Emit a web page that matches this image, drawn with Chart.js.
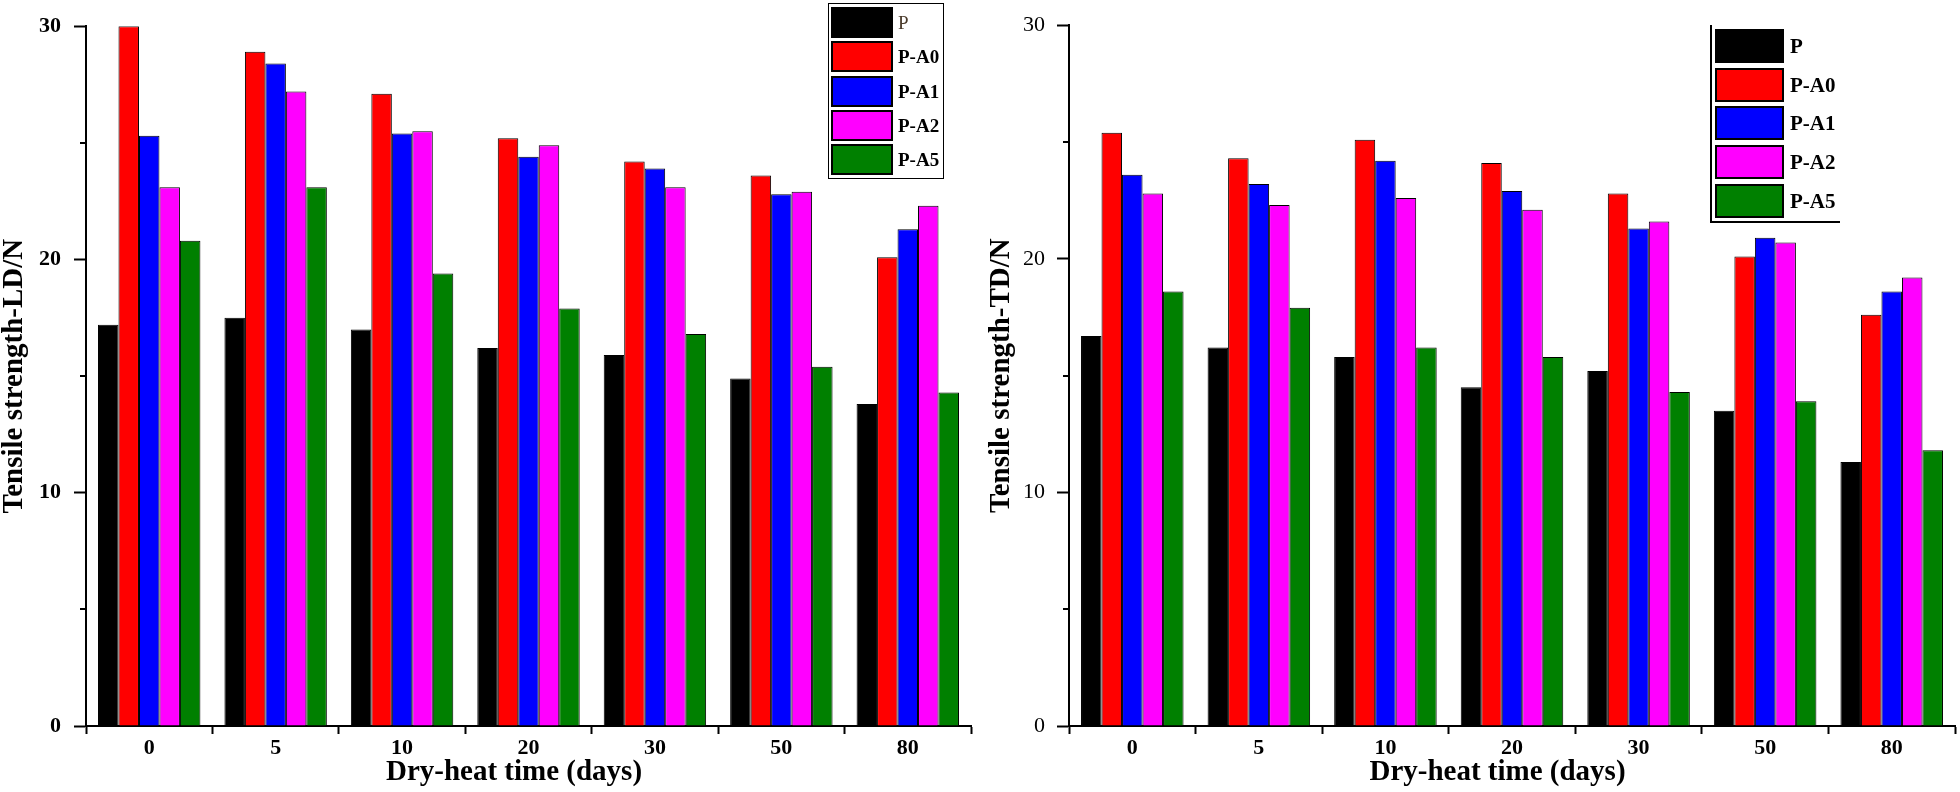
<!DOCTYPE html>
<html lang="en">
<head>
    <meta charset="UTF-8">
    <title>Tensile strength vs dry-heat time</title>
    <script src="https://cdn.jsdelivr.net/npm/chart.js"></script>
    <style>
        body { margin: 0; background: #fff; }
        #wrap { position: relative; width: 1960px; height: 792px; overflow: hidden; }
        canvas { position: absolute; top: 0; }
        .legend { position: absolute; box-sizing: border-box; }
        .legend .sw { position: absolute; box-sizing: border-box; border: 2px solid #000; }
        .legend .lb { position: absolute; font-family: 'Liberation Serif', serif; font-weight: bold; color: #000; white-space: nowrap; }
    </style>
</head>
<body>
<div id="wrap">
    <canvas id="chartLD" width="980" height="792" style="left:0"></canvas>
    <canvas id="chartTD" width="980" height="792" style="left:980px"></canvas>
    <div id="legendLD" class="legend"></div>
    <div id="legendTD" class="legend"></div>
</div>

<script>
    // categories (dry-heat days) and series
    const categories = ['0', '5', '10', '20', '30', '50', '80'];
    const seriesNames = ['P', 'P-A0', 'P-A1', 'P-A2', 'P-A5'];
    const seriesColors = ['#000000', '#ff0000', '#0000ff', '#ff00ff', '#008000'];
    const minorTickValues = [5, 15, 25];

    // tensile strength LD (N)
    const ldP  = [17.2, 17.5, 17.0, 16.2, 15.9, 14.9, 13.8];
    const ldA0 = [30.0, 28.9, 27.1, 25.2, 24.2, 23.6, 20.1];
    const ldA1 = [25.3, 28.4, 25.4, 24.4, 23.9, 22.8, 21.3];
    const ldA2 = [23.1, 27.2, 25.5, 24.9, 23.1, 22.9, 22.3];
    const ldA5 = [20.8, 23.1, 19.4, 17.9, 16.8, 15.4, 14.3];

    // tensile strength TD (N)
    const tdP  = [16.7, 16.2, 15.8, 14.5, 15.2, 13.5, 11.3];
    const tdA0 = [25.4, 24.3, 25.1, 24.1, 22.8, 20.1, 17.6];
    const tdA1 = [23.6, 23.2, 24.2, 22.9, 21.3, 20.9, 18.6];
    const tdA2 = [22.8, 22.3, 22.6, 22.1, 21.6, 20.7, 19.2];
    const tdA5 = [18.6, 17.9, 16.2, 15.8, 14.3, 13.9, 11.8];

    Chart.defaults.font.family = "'Liberation Serif', serif";
    Chart.defaults.color = '#000';

    // short ticks at 5, 15, 25
    const minorTicks = {
        id: 'minorTicks',
        afterDraw(chart) {
            const y = chart.scales.y;
            const ctx = chart.ctx;
            const x0 = chart.chartArea.left;
            ctx.save();
            ctx.strokeStyle = '#000';
            ctx.lineWidth = 2;
            minorTickValues.forEach(v => {
                const py = Math.round(y.getPixelForValue(v));
                ctx.beginPath();
                ctx.moveTo(x0 - 6, py);
                ctx.lineTo(x0, py);
                ctx.stroke();
            });
            ctx.restore();
        }
    };

    function makeChart(id, values, yTitle, cfg) {
        const datasets = values.map((arr, i) => ({
            label: seriesNames[i],
            data: arr,
            backgroundColor: seriesColors[i],
            borderColor: '#000',
            borderWidth: 1,
            categoryPercentage: 0.81,
            barPercentage: 1.0
        }));
        return new Chart(document.getElementById(id), {
            type: 'bar',
            data: { labels: categories, datasets: datasets },
            plugins: [minorTicks],
            options: {
                responsive: false,
                animation: false,
                layout: { padding: { top: cfg.top, right: cfg.right, left: 0, bottom: 0 } },
                plugins: { legend: { display: false }, tooltip: { enabled: false } },
                scales: {
                    x: {
                        afterFit: s => { s.height = 66; },
                        grid: { drawOnChartArea: false, tickLength: 8, tickWidth: 2, tickColor: '#000', offset: true },
                        border: { display: true, width: 2, color: '#000' },
                        ticks: { font: { size: 22, weight: 'bold' }, padding: 1, maxRotation: 0 },
                        title: {
                            display: true,
                            text: 'Dry-heat time (days)\u00a0\u00a0\u00a0\u00a0',
                            font: { size: 29, weight: 'bold', lineHeight: 1 },
                            padding: { top: 0, bottom: 5 }
                        }
                    },
                    y: {
                        min: 0,
                        max: 30,
                        afterFit: s => { s.width = cfg.axisX; },
                        grid: { drawOnChartArea: false, tickLength: 12, tickWidth: 2, tickColor: '#000' },
                        border: { display: true, width: 2, color: '#000' },
                        ticks: { stepSize: 10, font: { size: 22, weight: cfg.tickWeight }, padding: cfg.tickPad },
                        title: {
                            display: true,
                            text: yTitle,
                            font: { size: 29, weight: 'bold', lineHeight: 1 },
                            padding: { top: cfg.titlePad, bottom: 0 }
                        }
                    }
                }
            }
        });
    }

    makeChart('chartLD', [ldP, ldA0, ldA1, ldA2, ldA5], 'Tensile strength-LD/N',
        { top: 12, right: 9, axisX: 86, tickWeight: 'bold', tickPad: 13, titlePad: 0 });
    makeChart('chartTD', [tdP, tdA0, tdA1, tdA2, tdA5], 'Tensile strength-TD/N',
        { top: 13, right: 5, axisX: 89, tickWeight: 'normal', tickPad: 12, titlePad: 7 });

    // legends drawn as html boxes
    function makeLegend(id, box, sw, lb) {
        const el = document.getElementById(id);
        Object.assign(el.style, box);
        seriesNames.forEach((name, i) => {
            const s = document.createElement('div');
            s.className = 'sw';
            Object.assign(s.style, {
                left: sw.left + 'px', top: (sw.top + i * sw.step) + 'px',
                width: sw.w + 'px', height: sw.h + 'px', background: seriesColors[i]
            });
            el.appendChild(s);
            const t = document.createElement('div');
            t.className = 'lb';
            t.textContent = name;
            Object.assign(t.style, {
                left: lb.left + 'px', top: (sw.top + i * sw.step) + 'px',
                height: sw.h + 'px', lineHeight: sw.h + 'px', fontSize: lb.size + 'px'
            });
            if (lb.firstNormal && i === 0) { t.style.fontWeight = 'normal'; t.style.color = '#4a3a2a'; }
            el.appendChild(t);
        });
    }

    makeLegend('legendLD',
        { left: '828px', top: '3px', width: '116px', height: '176px', border: '1.5px solid #000' },
        { left: 1.5, top: 3, step: 34.3, w: 62, h: 31 },
        { left: 69, size: 19, firstNormal: true });
    makeLegend('legendTD',
        { left: '1710px', top: '25px', width: '130px', height: '198px', borderLeft: '2px solid #000', borderBottom: '2px solid #000' },
        { left: 3, top: 4, step: 38.7, w: 69, h: 34 },
        { left: 78, size: 21, firstNormal: false });
</script>
</body>
</html>
